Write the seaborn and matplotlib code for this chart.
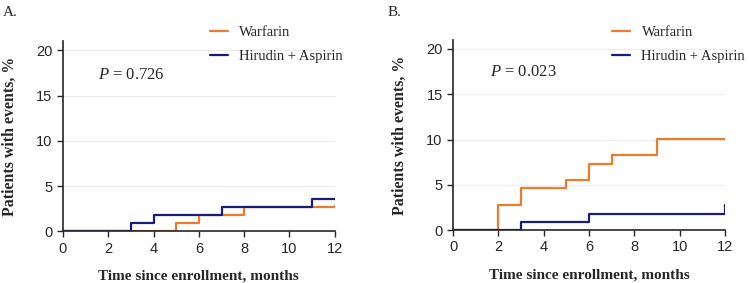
import pandas as pd
import matplotlib
matplotlib.use('Agg')
import matplotlib.pyplot as plt
import seaborn as sns

# step data (time in months, cumulative % with events)
a_warf_t = [0, 5, 6, 8, 12]
a_warf_y = [0, 0.9, 1.85, 2.75, 2.85]
a_hir_t = [0, 3, 4, 7, 11, 12]
a_hir_y = [0, 0.9, 1.8, 2.7, 3.6, 3.6]

b_warf_t = [0, 2, 3, 5, 6, 7, 9, 12]
b_warf_y = [0, 2.8, 4.6, 5.5, 7.35, 8.25, 10.1, 10.1]
b_hir_t = [0, 3, 6, 12, 12]
b_hir_y = [0, 0.9, 1.8, 1.8, 2.8]

groups = ['Warfarin', 'Hirudin + Aspirin']
p_values = ['0.726', '0.023']
panel_labels = ['A.', 'B.']
colors = {'Warfarin': '#EE7B2C', 'Hirudin + Aspirin': '#1B1B78'}


def make_df(wt, wy, ht, hy):
    d1 = pd.DataFrame({'time': wt, 'pct': wy, 'group': groups[0]})
    d2 = pd.DataFrame({'time': ht, 'pct': hy, 'group': groups[1]})
    return pd.concat([d1, d2], ignore_index=True)


panels = [make_df(a_warf_t, a_warf_y, a_hir_t, a_hir_y),
          make_df(b_warf_t, b_warf_y, b_hir_t, b_hir_y)]

sns.set_style('ticks')
plt.rcParams['mathtext.fontset'] = 'custom'
plt.rcParams['mathtext.it'] = 'Liberation Serif:italic'
plt.rcParams['mathtext.rm'] = 'Liberation Serif'

fig = plt.figure(figsize=(7.49, 2.83), dpi=100)
ax_pos = [[0.084, 0.182, 0.363, 0.672], [0.605, 0.187, 0.363, 0.672]]
leg_anchor = [(0.263, 0.956), (0.800, 0.956)]
p_pos = [(0.128, 0.80), (0.135, 0.81)]
lab_x = [0.004, 0.518]
serif = ['Liberation Serif', 'DejaVu Serif']
sans = ['Liberation Sans', 'DejaVu Sans']

for i, df in enumerate(panels):
    ax = fig.add_axes(ax_pos[i])
    sns.lineplot(data=df, x='time', y='pct', hue='group', palette=colors,
                 drawstyle='steps-post', linewidth=1.6, estimator=None,
                 sort=False, ax=ax, legend=True)
    ax.set_xlim(0, 12)
    ax.set_ylim(0, 21)
    ax.set_xticks(range(0, 13, 2))
    ax.set_yticks([0, 5, 10, 15, 20])
    for y in [5, 10, 15, 20]:
        ax.axhline(y, color='#ececec', lw=0.8, zorder=0)
    sns.despine(ax=ax)
    ax.spines['left'].set_linewidth(1.2)
    ax.spines['bottom'].set_linewidth(1.2)
    ax.tick_params(length=4, width=1.0, labelsize=10.5)
    for lab in ax.get_xticklabels() + ax.get_yticklabels():
        lab.set_family(sans)
    ax.set_xlabel('Time since enrollment, months', family=serif,
                  fontweight='bold', fontsize=11, labelpad=10)
    ax.set_ylabel('Patients with events, %', family=serif,
                  fontweight='bold', fontsize=11.4, labelpad=13)
    ax.text(p_pos[i][0], p_pos[i][1], '$P$ = ' + p_values[i],
            transform=ax.transAxes, family=serif, fontsize=12)
    ax.legend(loc='upper left', bbox_to_anchor=leg_anchor[i],
              bbox_transform=fig.transFigure,
              frameon=False, handlelength=1.2,
              prop={'family': serif, 'size': 10.5}, labelspacing=0.75)
    fig.text(lab_x[i], 0.955, panel_labels[i], family=serif, fontsize=11,
             va='center')

fig.savefig('out.png', dpi=100)
